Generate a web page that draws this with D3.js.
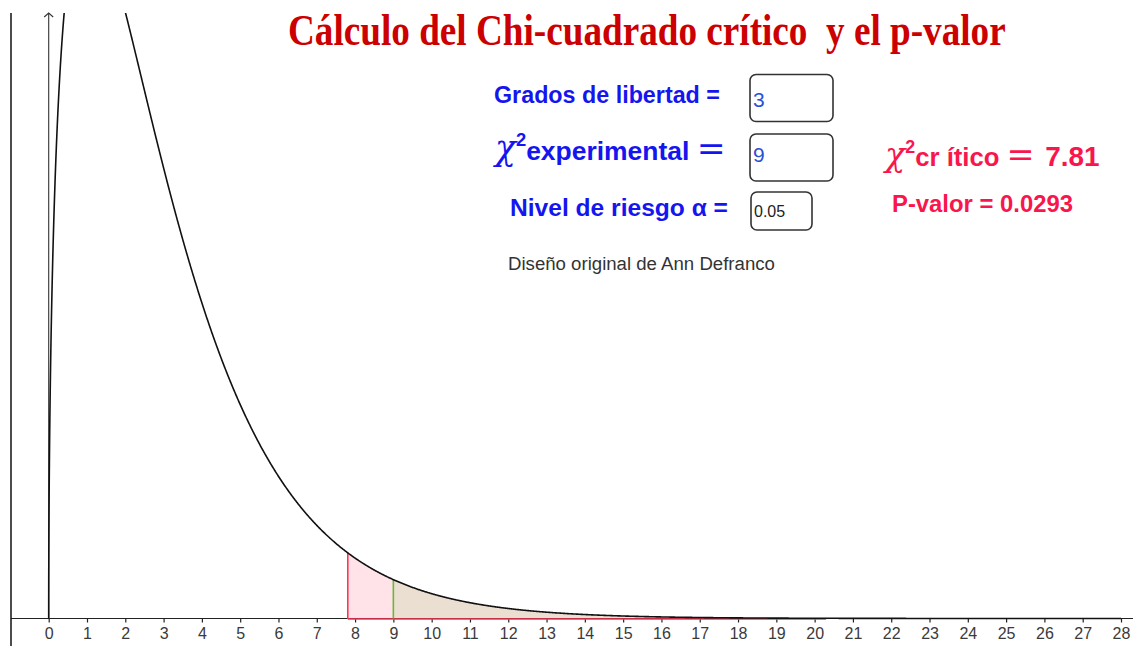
<!DOCTYPE html>
<html>
<head>
<meta charset="utf-8">
<script src="https://cdn.jsdelivr.net/npm/d3@7"></script>
<style>
  html, body { margin: 0; padding: 0; background: #fff; }
  svg { display: block; }
</style>
</head>
<body>
<svg id="chart" width="1133" height="646"></svg>
<script>
// ---------------- data ----------------
const xTicks = d3.range(0, 29);                 // 0 .. 28 tick labels
const degreesOfFreedom = 3;
const chiExperimental = 9;
const alphaRisk = 0.05;
const chiCritical = 7.81;
const pValue = 0.0293;
const xDomain = [0, 28];
const yDomain = [0, 0.2072];
const shadeEnd = 20.3;
const titleText = "Cálculo del Chi-cuadrado crítico  y el p-valor";
const creditText = "Diseño original de Ann Defranco";

// ---------------- helpers ----------------
function gammaFn(z) {
  const g = 7;
  const c = [0.99999999999980993, 676.5203681218851, -1259.1392167224028,
    771.32342877765313, -176.61502916214059, 12.507343278686905,
    -0.13857109526572012, 9.9843695780195716e-6, 1.5056327351493116e-7];
  if (z < 0.5) return Math.PI / (Math.sin(Math.PI * z) * gammaFn(1 - z));
  z -= 1;
  let x = c[0];
  for (let i = 1; i < g + 2; i++) x += c[i] / (z + i);
  const t = z + g + 0.5;
  return Math.sqrt(2 * Math.PI) * Math.pow(t, z + 0.5) * Math.exp(-t) * x;
}
function chiPdf(x, k) {
  if (x <= 0) return 0;
  return Math.pow(x, k / 2 - 1) * Math.exp(-x / 2) / (Math.pow(2, k / 2) * gammaFn(k / 2));
}

// ---------------- layout ----------------
const svg = d3.select("#chart");
const W = 1133, H = 646;
const axisY = 618.5, topY = 13, leftBorder = 11;
const x = d3.scaleLinear().domain(xDomain).range([48.7, 1121]);
const y = d3.scaleLinear().domain(yDomain).range([axisY, topY]);

svg.append("defs").append("clipPath").attr("id", "plotclip")
  .append("rect").attr("x", leftBorder).attr("y", topY).attr("width", W - leftBorder).attr("height", axisY - topY + 3);

const areaLayer = svg.append("g").attr("clip-path", "url(#plotclip)");
const axisLayer = svg.append("g");
const markLayer = svg.append("g").attr("clip-path", "url(#plotclip)");

// sample points for curve
const samples = d3.range(0, 1.00001, 0.0005).map(t => xDomain[1] * t * t);
const curvePts = samples.map(v => [v, chiPdf(v, degreesOfFreedom)]);

const pinkPts = samples.filter(v => v >= chiCritical && v <= shadeEnd);
pinkPts.unshift(chiCritical);
const tanPts = samples.filter(v => v >= chiExperimental && v <= shadeEnd);
tanPts.unshift(chiExperimental);

const area = d3.area().x(d => x(d)).y0(axisY).y1(d => y(chiPdf(d, degreesOfFreedom)));

areaLayer.append("path").datum(pinkPts).attr("d", area)
  .attr("fill", "#FFE3E8").attr("stroke", "none");
areaLayer.append("path").datum(tanPts).attr("d", area)
  .attr("fill", "#EBDFD2").attr("stroke", "none");

// x axis line
axisLayer.append("line").attr("x1", leftBorder).attr("x2", W).attr("y1", axisY).attr("y2", axisY)
  .attr("stroke", "#222").attr("stroke-width", 1.2);

// y axis
axisLayer.append("line").attr("x1", x(0)).attr("x2", x(0)).attr("y1", axisY).attr("y2", topY)
  .attr("stroke", "#333").attr("stroke-width", 1.1);
axisLayer.append("path")
  .attr("d", `M${x(0) - 4.5},${topY + 4} L${x(0)},${topY} L${x(0) + 4.5},${topY + 4}`)
  .attr("fill", "none").attr("stroke", "#333").attr("stroke-width", 1.1);

// x axis ticks
const axis = d3.axisBottom(x).tickValues(xTicks).tickSize(4).tickPadding(5).tickFormat(d3.format("d"));
const gAxis = axisLayer.append("g").attr("transform", `translate(0,${axisY})`).call(axis)
  .attr("font-size", 16).attr("font-family", "'Liberation Sans', Arial, sans-serif");
gAxis.select(".domain").remove();
gAxis.selectAll(".tick line").attr("stroke", "#222").attr("stroke-width", 1.2);
gAxis.selectAll(".tick text").attr("fill", "#3a3a3a")
  .style("font-family", "'Liberation Sans', Arial, sans-serif").style("font-size", "16px");

// red outline of critical region
markLayer.append("line").attr("x1", x(chiCritical)).attr("x2", x(chiCritical))
  .attr("y1", axisY + 0.5).attr("y2", y(chiPdf(chiCritical, degreesOfFreedom)))
  .attr("stroke", "#FF3355").attr("stroke-width", 1.6);
markLayer.append("line").attr("x1", x(chiCritical)).attr("x2", x(shadeEnd))
  .attr("y1", axisY + 0.5).attr("y2", axisY + 0.5)
  .attr("stroke", "#FF3355").attr("stroke-width", 1.4);

// green line at experimental value
markLayer.append("line").attr("x1", x(chiExperimental)).attr("x2", x(chiExperimental))
  .attr("y1", axisY).attr("y2", y(chiPdf(chiExperimental, degreesOfFreedom)))
  .attr("stroke", "#66BB33").attr("stroke-width", 1.6);

// curve
const line = d3.line().x(d => x(d[0])).y(d => y(d[1]));
markLayer.append("path").datum(curvePts).attr("d", line)
  .attr("fill", "none").attr("stroke", "#111").attr("stroke-width", 1.6);

// left border
svg.append("line").attr("x1", leftBorder).attr("x2", leftBorder).attr("y1", topY).attr("y2", H)
  .attr("stroke", "#111").attr("stroke-width", 1.5);

// ---------------- texts ----------------
function fitWidth(sel, target) {
  const w = sel.node().getBBox().width;
  const k = target / w;
  sel.selectAll("tspan").each(function () {
    const t = d3.select(this);
    const fs = parseFloat(t.style("font-size"));
    t.style("font-size", (fs * k) + "px");
    const dy = t.attr("dy");
    if (dy) t.attr("dy", parseFloat(dy) * k);
  });
}

// title (condensed horizontally via transform)
const titleG = svg.append("g");
const titleT = titleG.append("text").attr("x", 0).attr("y", 0)
  .attr("xml:space", "preserve").style("white-space", "pre")
  .style("font-family", "'Liberation Serif', 'Times New Roman', serif")
  .style("font-weight", "bold").style("font-size", "45px")
  .attr("fill", "#CC0000").text(titleText);
const tw = titleT.node().getBBox().width;
titleG.attr("transform", `translate(288,45) scale(${718 / tw},1)`);

const sansB = "'Liberation Sans', Arial, sans-serif";
const blue = "#1515F0";
const red = "#F8164C";

// Grados de libertad
const g1 = svg.append("text").attr("x", 494).attr("y", 103).attr("fill", blue)
  .style("font-family", sansB).style("font-weight", "bold");
g1.append("tspan").style("font-size", "23px").text("Grados de libertad =");
fitWidth(g1, 226);

// chi experimental
const g2 = svg.append("text").attr("x", 495).attr("y", 160).attr("fill", blue);
g2.append("tspan").style("font-family", "'DejaVu Serif', serif").style("font-style", "italic")
  .style("font-size", "30px").text("χ");
g2.append("tspan").attr("dy", -12).style("font-family", sansB).style("font-weight", "bold")
  .style("font-size", "16px").text("2");
g2.append("tspan").attr("dy", 12).style("font-family", sansB).style("font-weight", "bold")
  .style("font-size", "23px").text("experimental ");
g2.append("tspan").style("font-family", "'DejaVu Serif', serif")
  .style("font-size", "30px").text("=");
fitWidth(g2, 233);

// Nivel de riesgo
const g3 = svg.append("text").attr("x", 510).attr("y", 216).attr("fill", blue)
  .style("font-family", sansB).style("font-weight", "bold");
g3.append("tspan").style("font-size", "22px").text("Nivel de riesgo α =");
fitWidth(g3, 218);

// boxes
const boxes = [
  {x: 750, y: 74.5, w: 83, h: 47, val: String(degreesOfFreedom), tx: 753, ty: 107, fs: 21, col: "#2D4FD6"},
  {x: 750, y: 134, w: 83, h: 47, val: String(chiExperimental), tx: 753, ty: 162, fs: 21, col: "#2D4FD6"},
  {x: 751, y: 192, w: 61, h: 38, val: String(alphaRisk), tx: 754, ty: 217, fs: 16, col: "#222"}
];
boxes.forEach(b => {
  svg.append("rect").attr("x", b.x).attr("y", b.y).attr("width", b.w).attr("height", b.h)
    .attr("rx", 6).attr("fill", "#fff").attr("stroke", "#333").attr("stroke-width", 1.6);
  svg.append("text").attr("x", b.tx).attr("y", b.ty).attr("fill", b.col)
    .style("font-family", "'Liberation Sans', Arial, sans-serif").style("font-size", b.fs + "px")
    .text(b.val);
});

// credit
const g4 = svg.append("text").attr("x", 508).attr("y", 270).attr("fill", "#333")
  .style("font-family", sansB);
g4.append("tspan").style("font-size", "18px").text(creditText);
fitWidth(g4, 267);

// chi critico
const g5 = svg.append("text").attr("x", 885).attr("y", 166).attr("fill", red);
g5.append("tspan").style("font-family", "'DejaVu Serif', serif").style("font-style", "italic")
  .style("font-size", "30px").text("χ");
g5.append("tspan").attr("dy", -12).style("font-family", sansB).style("font-weight", "bold")
  .style("font-size", "16px").text("2");
g5.append("tspan").attr("dy", 12).style("font-family", sansB).style("font-weight", "bold")
  .style("font-size", "23px").text("cr ítico ");
g5.append("tspan").style("font-family", "'DejaVu Serif', serif")
  .style("font-size", "30px").text("= ");
g5.append("tspan").style("font-family", sansB).style("font-weight", "bold")
  .style("font-size", "25px").text(chiCritical.toFixed(2));
fitWidth(g5, 217);

// p-valor
const g6 = svg.append("text").attr("x", 892).attr("y", 212).attr("fill", red)
  .style("font-family", sansB).style("font-weight", "bold");
g6.append("tspan").style("font-size", "20px").text("P-valor = " + pValue.toFixed(4));
fitWidth(g6, 181);
</script>
</body>
</html>
